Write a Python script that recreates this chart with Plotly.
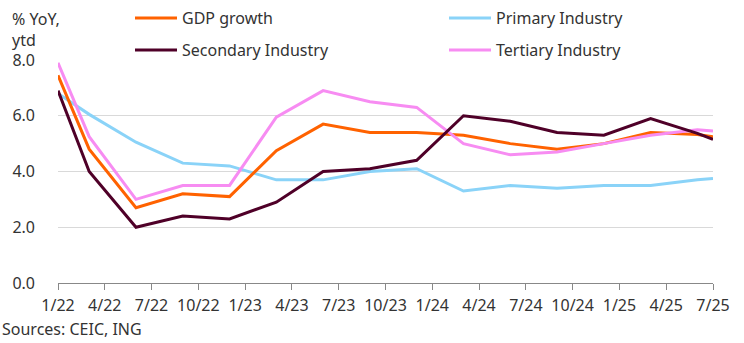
import plotly.graph_objects as go

# month index from 1/22 (0) to 7/25 (42)
months = [0, 2, 5, 8, 11, 14, 17, 20, 23, 26, 29, 32, 35, 38, 41, 42]
gdp = [7.45, 4.8, 2.7, 3.2, 3.1, 4.75, 5.7, 5.4, 5.4, 5.3, 5.0, 4.8, 5.0, 5.4, 5.33, 5.25]
primary = [6.8, 6.05, 5.05, 4.3, 4.2, 3.7, 3.7, 4.0, 4.1, 3.3, 3.5, 3.4, 3.5, 3.5, 3.7, 3.75]
secondary = [6.9, 4.0, 2.0, 2.4, 2.3, 2.9, 4.0, 4.1, 4.4, 6.0, 5.8, 5.4, 5.3, 5.9, 5.37, 5.15]
tertiary = [7.9, 5.25, 3.0, 3.5, 3.5, 5.95, 6.9, 6.5, 6.3, 5.0, 4.6, 4.7, 5.0, 5.3, 5.5, 5.45]
tick_vals = list(range(0, 43, 3))
tick_text = ["1/22", "4/22", "7/22", "10/22", "1/23", "4/23", "7/23", "10/23",
             "1/24", "4/24", "7/24", "10/24", "1/25", "4/25", "7/25"]

FONT = "Noto Sans"
TXT = "#333333"
W, H = 744, 343
L, R, T, B = 58, 31, 60, 60
PW, PH = W - L - R, H - T - B


def px_x(p):
    return (p - L) / PW


def px_y(p):
    return (H - B - p) / PH


fig = go.Figure()
fig.add_trace(go.Scatter(x=months, y=primary, name="Primary Industry", mode="lines",
                         line=dict(color="#8AD3F8", width=3), legend="legend", legendrank=2))
fig.add_trace(go.Scatter(x=months, y=gdp, name="GDP growth", mode="lines",
                         line=dict(color="#FF6200", width=3), legend="legend", legendrank=1))
fig.add_trace(go.Scatter(x=months, y=tertiary, name="Tertiary Industry", mode="lines",
                         line=dict(color="#F78CF2", width=3), legend="legend2", legendrank=2))
fig.add_trace(go.Scatter(x=months, y=secondary, name="Secondary Industry", mode="lines",
                         line=dict(color="#4F0028", width=3), legend="legend2", legendrank=1))

leg_common = dict(orientation="h", xref="container", yref="container",
                  x=130 / W, xanchor="left", yanchor="middle",
                  font=dict(family=FONT, size=16, color=TXT),
                  bgcolor="rgba(0,0,0,0)", entrywidth=257, itemwidth=42,
                  traceorder="normal")
fig.update_layout(
    width=W, height=H,
    margin=dict(l=L, r=R, t=T, b=B, autoexpand=False),
    paper_bgcolor="white", plot_bgcolor="white",
    font=dict(family=FONT, size=16, color=TXT),
    showlegend=True,
    legend=dict(leg_common, y=1 - 18 / H),
    legend2=dict(leg_common, y=1 - 50 / H),
    xaxis=dict(range=[0, 42], tickmode="array", tickvals=tick_vals, ticktext=tick_text,
               showgrid=False, zeroline=False, showline=True, linecolor="#888888",
               linewidth=1, ticks="outside", ticklen=6, tickcolor="#888888",
               ticklabelstandoff=2,
               tickfont=dict(family=FONT, size=16, color=TXT)),
    yaxis=dict(range=[0, 8], tickvals=[0, 2, 4, 6, 8], tickformat=".1f",
               showgrid=True, gridcolor="#D9D9D9", gridwidth=1, zeroline=False,
               ticks="", ticklabelstandoff=22,
               tickfont=dict(family=FONT, size=16, color=TXT)),
    annotations=[
        dict(text="% YoY,<br>ytd", xref="paper", yref="paper", x=px_x(10), y=px_y(6),
             xanchor="left", yanchor="top", showarrow=False, align="left",
             font=dict(family=FONT, size=16, color=TXT)),
        dict(text="Sources: CEIC, ING", xref="paper", yref="paper",
             x=px_x(0), y=px_y(316), xanchor="left", yanchor="top", showarrow=False,
             font=dict(family=FONT, size=16, color=TXT)),
    ],
)
for tr in fig.data:
    tr.cliponaxis = False

fig.write_html("out.html")
